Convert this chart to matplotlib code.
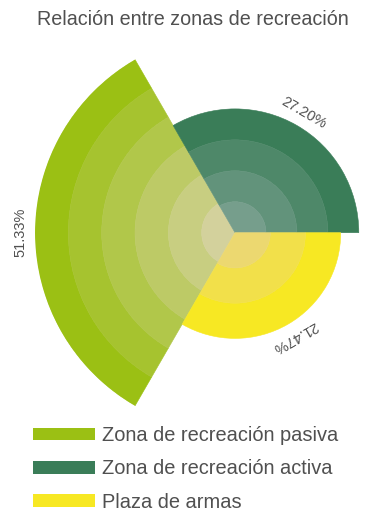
import numpy as np
import matplotlib.pyplot as plt
from matplotlib.patches import Patch
from matplotlib.colors import to_rgb

zonas = ["Zona de recreación pasiva", "Zona de recreación activa", "Plaza de armas"]
porcentajes = [51.33, 27.20, 21.47]
angulos = [180, 60, -60]  # centre of each 120° sector, degrees

color_base = ["#9bc014", "#3a7d58", "#f7e823"]
color_centro = ["#d3d19c", "#769e8c", "#ecd870"]
texto = "#505050"

plt.rcParams["font.family"] = ["Liberation Sans", "DejaVu Sans"]

fig = plt.figure(figsize=(3.83, 5.30), dpi=100)
ax = fig.add_axes([0.0914, 0.1836, 1.0444, 0.7547], projection="polar")

r_min, r_max = -12, max(porcentajes)
paso = (r_max - r_min) / 6
ancho = np.deg2rad(120)

for val, ang, c0, c1 in zip(porcentajes, angulos, color_base, color_centro):
    theta = np.deg2rad(ang)
    n = int(round((val - r_min) / paso))
    bordes = np.linspace(r_min, val, n + 1)
    for k in range(n):
        # k = 0 is the outer ring, lighter towards the centre
        t = k / max(n - 1, 1)
        col = (1 - t) * np.array(to_rgb(c0)) + t * np.array(to_rgb(c1))
        lo, hi = bordes[n - 1 - k], bordes[n - k]
        ax.bar(theta, hi - lo, width=ancho, bottom=lo, color=col,
               edgecolor=col, linewidth=0.4, align="center")
    ax.text(theta, val + 4.5, f"{val:.2f}%", rotation=ang - 90,
            rotation_mode="anchor", ha="center", va="center",
            fontsize=10.5, color=texto)

ax.set_ylim(r_min, r_max)
ax.set_axis_off()

fig.text(0.5026, 0.964, "Relación entre zonas de recreación",
         ha="center", va="center", fontsize=14.2, color=texto)

handles = [Patch(facecolor=c, edgecolor="none") for c in color_base]
fig.legend(handles, zonas, loc="upper left", bbox_to_anchor=(33 / 383, 1 - 426 / 530),
           frameon=False, fontsize=14.4, labelcolor=texto, handlelength=3.1,
           handleheight=0.6, handletextpad=0.36, labelspacing=0.72,
           borderpad=0, borderaxespad=0)

fig.savefig("out.png", dpi=100)
